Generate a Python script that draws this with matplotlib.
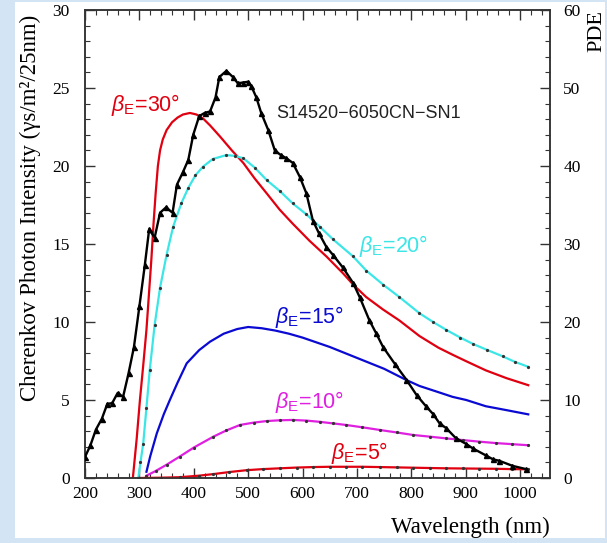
import matplotlib
matplotlib.use("Agg")
import matplotlib.pyplot as plt
from matplotlib.patches import Rectangle
from matplotlib.ticker import MultipleLocator

plt.rcParams['mathtext.fontset'] = 'custom'
plt.rcParams['mathtext.rm'] = 'Liberation Sans'
plt.rcParams['mathtext.it'] = 'Liberation Sans:italic'

# ---- data ----
pde_wl = [200, 210, 220, 231, 241, 250, 260, 270, 280, 290, 300, 310, 318, 328, 338, 349,
          361, 369, 380, 390, 399, 410, 420, 430, 440, 447, 460, 472, 481, 490, 500, 506,
          515, 524, 537, 549, 560, 570, 582, 595, 607, 619, 630, 644, 656, 674, 693, 705,
          723, 735, 748, 770, 791, 810, 827, 840, 852, 864, 882, 900, 913, 937, 950, 962,
          986, 1011]
pde_val = [2.7, 4.2, 6.2, 7.6, 9.5, 9.6, 10.9, 10.4, 13.4, 16.8, 22.0, 27.3, 31.9, 30.8, 34.0, 34.7,
           34.0, 37.6, 39.2, 40.8, 44.0, 46.4, 46.8, 47.0, 48.8, 51.4, 52.2, 51.4, 50.6, 50.7, 50.8, 50.2,
           48.8, 46.8, 44.6, 42.0, 41.4, 41.0, 40.4, 38.6, 36.5, 33.0, 31.4, 29.6, 28.6, 27.0, 25.0, 23.2,
           20.2, 18.6, 16.8, 14.6, 12.6, 10.6, 9.2, 8.2, 7.0, 6.4, 5.1, 4.4, 3.8, 2.9, 2.4, 2.2,
           1.56, 1.14]

b30_wl = [288, 295, 301, 307, 313, 318, 322, 326, 330, 334, 338, 343, 350, 360, 370, 380, 393,
          405, 417, 430, 448, 470, 491, 512, 534, 558, 582, 613, 644, 675, 693, 717, 748, 778,
          815, 850, 876, 900, 937, 975, 1015]
b30_val = [0.0, 2.5, 5.0, 7.2, 9.5, 12.0, 14.0, 16.3, 18.3, 20.0, 21.0, 21.7, 22.3, 22.8, 23.1, 23.3, 23.4,
           23.3, 23.05, 22.6, 21.9, 21.0, 20.2, 19.2, 18.25, 17.2, 16.3, 15.2, 14.2, 13.1, 12.4, 11.6, 10.8, 10.1,
           9.1, 8.35, 7.9, 7.5, 6.9, 6.4, 5.95]

b20_wl = [298, 302, 307, 313, 319, 328, 338, 350, 362, 377, 390, 403, 417, 435, 460, 475, 491,
          512, 534, 558, 582, 607, 632, 656, 693, 717, 748, 778, 815, 840, 864, 890, 913, 940,
          968, 990, 1015]
b20_val = [0.0, 1.0, 2.2, 4.5, 6.9, 9.8, 12.2, 14.3, 16.1, 17.6, 18.6, 19.4, 19.96, 20.45, 20.7, 20.65, 20.5,
           19.9, 19.1, 18.4, 17.6, 16.9, 16.1, 15.3, 14.2, 13.3, 12.4, 11.6, 10.56, 10.0, 9.5, 9.0, 8.6, 8.2,
           7.8, 7.45, 7.13]

b15_wl = [313, 320, 332, 345, 356, 370, 387, 410, 430, 455, 480, 500, 525, 550, 575, 600, 650,
          700, 750, 791, 815, 850, 876, 901, 937, 975, 1015]
b15_val = [0.4, 1.4, 2.86, 4.1, 5.0, 6.1, 7.35, 8.2, 8.74, 9.25, 9.55, 9.68, 9.6, 9.45, 9.25, 9.0, 8.4,
           7.7, 7.0, 6.28, 5.9, 5.5, 5.2, 5.0, 4.6, 4.35, 4.08]

b10_wl = [313, 330, 350, 374, 400, 436, 460, 485, 510, 534, 558, 582, 607, 632, 656, 680, 710,
          742, 773, 803, 834, 864, 895, 925, 955, 985, 1015]
b10_val = [0.15, 0.45, 0.85, 1.37, 1.95, 2.65, 3.05, 3.4, 3.55, 3.65, 3.7, 3.72, 3.68, 3.6, 3.5, 3.4, 3.25,
           3.08, 2.92, 2.76, 2.65, 2.54, 2.43, 2.33, 2.24, 2.17, 2.1]

b5_wl = [300, 340, 374, 410, 436, 465, 497, 527, 558, 590, 619, 650, 680, 710, 742, 773, 803,
         834, 864, 895, 925, 955, 985, 1015]
b5_val = [0.0, 0.02, 0.05, 0.15, 0.25, 0.38, 0.5, 0.57, 0.62, 0.67, 0.7, 0.72, 0.72, 0.72, 0.7, 0.68, 0.66,
          0.64, 0.62, 0.61, 0.6, 0.59, 0.57, 0.56]

# ---- figure ----
W, H = 607, 543
fig = plt.figure(figsize=(W / 100, H / 100), dpi=100, facecolor='#d3e4f5')
fig.patches.append(Rectangle((15 / W, 1 - 538 / H), (605 - 15) / W, (538 - 2) / H,
                             transform=fig.transFigure, facecolor='white', edgecolor='none', zorder=-10))

L, R, T, B = 85, 550, 10, 478
ax = fig.add_axes([L / W, 1 - B / H, (R - L) / W, (B - T) / H])
ax.set_facecolor('white')
ax2 = ax.twinx()

RED = '#e00010'
CYAN = '#3ce6e6'
BLUE = '#0a0ad2'
MAG = '#e020e0'

ax.plot(b30_wl, b30_val, color=RED, lw=1.6, zorder=3)
ax.plot(b20_wl, b20_val, color=CYAN, lw=1.6, zorder=3, marker='o', ms=1.3,
        mfc='#333333', mec='#333333')
ax.plot(b15_wl, b15_val, color=BLUE, lw=1.6, zorder=3)
ax.plot(b10_wl, b10_val, color=MAG, lw=1.6, zorder=3, marker='o', ms=1.3,
        mfc='#333333', mec='#333333')
ax.plot(b5_wl, b5_val, color=RED, lw=1.6, zorder=3, marker='o', ms=1.3,
        mfc='#333333', mec='#333333')

ax2.plot(pde_wl, pde_val, color='black', lw=1.7, marker='^', ms=3.6, zorder=4)

ax.set_xlim(200, 1055)
ax.set_ylim(0, 30)
ax2.set_ylim(0, 60)

ax.xaxis.set_major_locator(MultipleLocator(100))
ax.xaxis.set_minor_locator(MultipleLocator(20))
ax.yaxis.set_major_locator(MultipleLocator(5))
ax.yaxis.set_minor_locator(MultipleLocator(1))
ax2.yaxis.set_major_locator(MultipleLocator(10))
ax2.yaxis.set_minor_locator(MultipleLocator(2))

ax.tick_params(axis='x', which='both', direction='in', top=True, bottom=True,
               colors='#333333', labelcolor='black', pad=6)
ax.tick_params(axis='y', which='both', direction='in', left=True, right=False,
               colors='#333333', labelcolor='black', pad=11)
ax2.tick_params(axis='y', which='both', direction='in', right=True, left=False,
                colors='#333333', labelcolor='black', pad=9.5)
for a in (ax, ax2):
    a.tick_params(which='major', length=7, width=1.0)
    a.tick_params(which='minor', length=3.5, width=0.8)
for lab in ax.get_xticklabels() + ax.get_yticklabels() + ax2.get_yticklabels():
    lab.set_fontfamily('Liberation Serif')
    lab.set_fontsize(12.5)
for a in (ax, ax2):
    for s in a.spines.values():
        s.set_linewidth(1.1)
        s.set_color('#333333')

# ---- texts ----
lab_kw = dict(fontfamily='Liberation Sans', fontsize=15.5, ha='left', va='center', zorder=5)
ax.text(248, 23.9, r'$\beta_{\mathrm{E}}$=30°', color=RED, **lab_kw)
ax.text(703, 14.9, r'$\beta_{\mathrm{E}}$=20°', color=CYAN, **lab_kw)
ax.text(550, 10.3, r'$\beta_{\mathrm{E}}$=15°', color=BLUE, **lab_kw)
ax.text(549, 4.85, r'$\beta_{\mathrm{E}}$=10°', color=MAG, **lab_kw)
ax.text(653, 1.6, r'$\beta_{\mathrm{E}}$=5°', color=RED, **lab_kw)
ax.text(551, 23.35, 'S14520\u22126050CN\u2212SN1', color='#222222', fontfamily='Liberation Sans',
        fontsize=13, ha='left', va='center', zorder=5)

fig.text(30 / W, 1 - 208 / H, 'Cherenkov Photon Intensity (\u03b3s/m\u00b2/25nm)',
         rotation=90, ha='center', va='center', fontfamily='Liberation Serif', fontsize=16.5)
fig.text(550 / W, 1 - 527 / H, 'Wavelength (nm)', ha='right', va='center',
         fontfamily='Liberation Serif', fontsize=16.5)
fig.text(597 / W, 1 - 10 / H, 'PDE', rotation=90, ha='center', va='top',
         fontfamily='Liberation Serif', fontsize=16)

fig.savefig('out.png', dpi=100, facecolor=fig.get_facecolor())
